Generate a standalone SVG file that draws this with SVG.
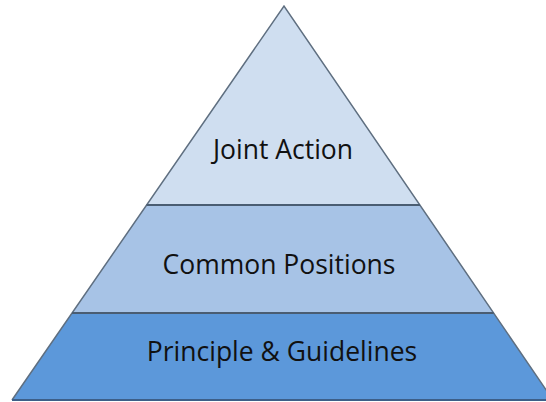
<svg xmlns="http://www.w3.org/2000/svg" width="546" height="402" viewBox="0 0 546 402">
<style>
.band{stroke:none}
.edge{fill:none;stroke:#5f6f80;stroke-width:1.5}
.div{stroke:#4a5d72;stroke-width:2}
.lbl{font-family:"Open Sans","Liberation Sans",sans-serif;font-size:26.5px;fill:#111;text-anchor:middle}
</style>
<rect width="546" height="402" fill="#fff"/>
<g id="top">
<polygon class="band" points="284,6 146.5,205 420,205" fill="#cfdef0"/>
<text class="lbl" x="283" y="159">Joint Action</text>
</g>
<g id="middle">
<polygon class="band" points="146.5,205 420,205 493.7,313 72,313" fill="#a7c3e6"/>
<text class="lbl" x="279" y="274">Common Positions</text>
</g>
<g id="bottom">
<polygon class="band" points="72,313 493.7,313 553,400 12,400" fill="#5c98da"/>
<text class="lbl" x="282" y="361">Principle &amp; Guidelines</text>
</g>
<g id="connectors">
<polyline class="edge" points="12,400 284,6 553,400"/>
<line class="div" x1="146.5" y1="205" x2="420" y2="205"/>
<line class="div" x1="72" y1="313" x2="493.7" y2="313"/>
<line x1="12" y1="400" x2="553" y2="400" stroke="#3d5f88" stroke-width="2"/>
</g>
</svg>
